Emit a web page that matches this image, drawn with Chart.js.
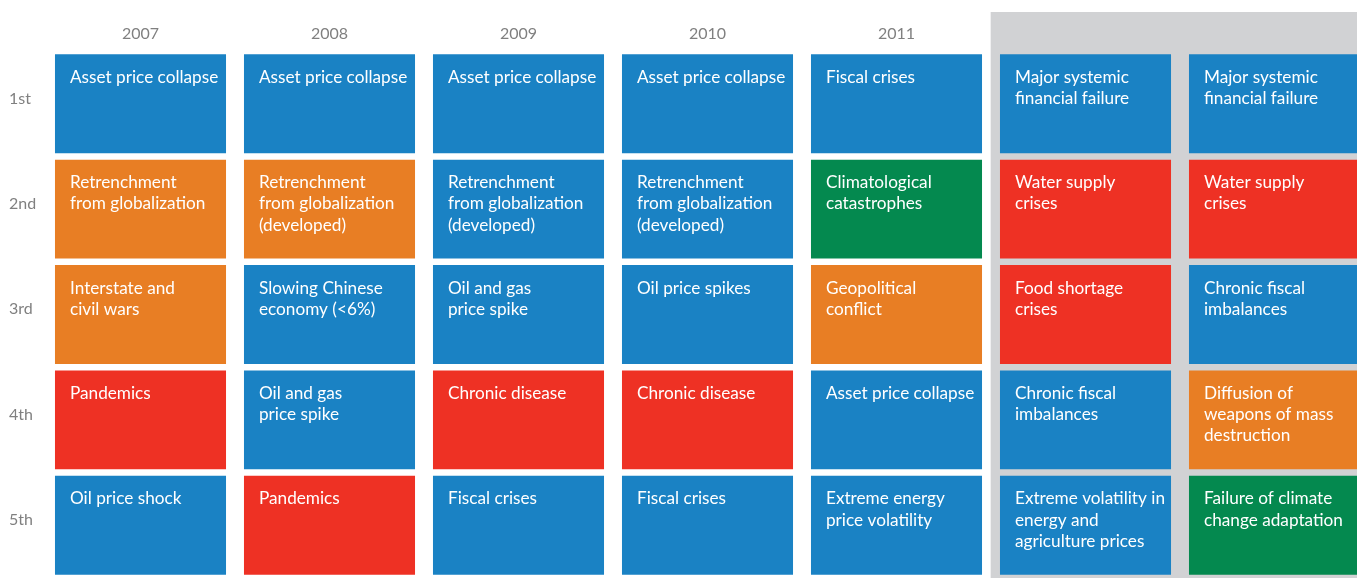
<!DOCTYPE html>
<html>
<head>
<meta charset="utf-8">
<script src="https://cdn.jsdelivr.net/npm/chart.js@4/dist/chart.umd.min.js"></script>
<style>
  html, body { margin: 0; padding: 0; background: #fff; overflow: hidden; }
  #wrap { position: relative; width: 1369px; height: 578px; }
</style>
</head>
<body>
<div id="wrap"><canvas id="c"></canvas></div>
<script>
// ---- data ----
const years = ['2007', '2008', '2009', '2010', '2011', '2012*', '2013*'];
const rankLabels = ['1st', '2nd', '3rd', '4th', '5th'];
const forecastYears = ['2012*', '2013*'];

// risk names per rank, one entry per year ("\n" = line break as printed)
const rank1Risks = ['Asset price collapse', 'Asset price collapse', 'Asset price collapse', 'Asset price collapse', 'Fiscal crises', 'Major systemic\nfinancial failure', 'Major systemic\nfinancial failure'];
const rank2Risks = ['Retrenchment\nfrom globalization', 'Retrenchment\nfrom globalization\n(developed)', 'Retrenchment\nfrom globalization\n(developed)', 'Retrenchment\nfrom globalization\n(developed)', 'Climatological\ncatastrophes', 'Water supply\ncrises', 'Water supply\ncrises'];
const rank3Risks = ['Interstate and\ncivil wars', 'Slowing Chinese\neconomy (<6%)', 'Oil and gas\nprice spike', 'Oil price spikes', 'Geopolitical\nconflict', 'Food shortage\ncrises', 'Chronic fiscal\nimbalances'];
const rank4Risks = ['Pandemics', 'Oil and gas\nprice spike', 'Chronic disease', 'Chronic disease', 'Asset price collapse', 'Chronic fiscal\nimbalances', 'Diffusion of\nweapons of mass\ndestruction'];
const rank5Risks = ['Oil price shock', 'Pandemics', 'Fiscal crises', 'Fiscal crises', 'Extreme energy\nprice volatility', 'Extreme volatility in\nenergy and\nagriculture prices', 'Failure of climate\nchange adaptation'];

// category per cell: E = economic, G = geopolitical, S = societal, N = environmental
const rank1Types = ['E', 'E', 'E', 'E', 'E', 'E', 'E'];
const rank2Types = ['G', 'G', 'E', 'E', 'N', 'S', 'S'];
const rank3Types = ['G', 'E', 'E', 'E', 'G', 'S', 'E'];
const rank4Types = ['S', 'E', 'S', 'S', 'E', 'E', 'G'];
const rank5Types = ['E', 'S', 'E', 'E', 'E', 'E', 'N'];

// ---- styling ----
const typeColors = { E: '#1a82c4', G: '#e87e24', S: '#ee3124', N: '#04894f' };
const bandColor = '#d1d2d4';
const labelGray = '#808080';
const cellFont = '"Lato", "Open Sans", sans-serif';

const risksByRank = [rank1Risks, rank2Risks, rank3Risks, rank4Risks, rank5Risks];
const typesByRank = [rank1Types, rank2Types, rank3Types, rank4Types, rank5Types];

const GAP = 0.031;
const rankDatasets = risksByRank.map((risks, r) => ({
  label: rankLabels[r],
  data: risks.map(() => [r + GAP, r + 1 - GAP]),
  risks: risks,
  backgroundColor: typesByRank[r].map(t => typeColors[t]),
  borderWidth: 0,
  borderSkipped: false,
  grouped: false,
  barPercentage: 0.905,
  categoryPercentage: 1.0,
  order: 1
}));

const bandDataset = {
  label: 'forecast',
  data: years.map(y => forecastYears.includes(y) ? [-0.367, 5.2] : null),
  backgroundColor: bandColor,
  borderWidth: 0,
  grouped: false,
  barPercentage: 1.0,
  categoryPercentage: 1.0,
  clip: false,
  order: 2
};

const cellText = {
  id: 'cellText',
  afterDatasetsDraw(chart) {
    const ctx = chart.ctx;
    ctx.save();
    ctx.fillStyle = '#ffffff';
    ctx.font = '17.2px ' + cellFont;
    ctx.textAlign = 'left';
    ctx.textBaseline = 'middle';
    chart.data.datasets.forEach((ds, di) => {
      if (!ds.risks) return;
      const meta = chart.getDatasetMeta(di);
      meta.data.forEach((el, i) => {
        const top = Math.min(el.y, el.base);
        const left = el.x - el.width / 2;
        const lines = ds.risks[i].split('\n');
        lines.forEach((ln, k) => {
          ctx.fillText(ln, left + 15, top + 23 + k * 21.2);
        });
      });
    });
    ctx.restore();
  }
};

new Chart(document.getElementById('c'), {
  type: 'bar',
  data: { labels: years, datasets: [bandDataset, ...rankDatasets] },
  options: {
    responsive: true,
    maintainAspectRatio: false,
    animation: false,
    layout: { padding: { left: 9, right: 0, top: 0, bottom: 0 } },
    plugins: { legend: { display: false }, tooltip: { enabled: false } },
    scales: {
      x: {
        position: 'top',
        z: 1,
        grid: { display: false, drawTicks: false },
        border: { display: false },
        ticks: { color: labelGray, font: { family: cellFont, size: 16 }, padding: 8 },
        afterFit(s) { s.height = 51; }
      },
      y: {
        min: 0, max: 5, reverse: true,
        grid: { display: false, drawTicks: false },
        border: { display: false },
        afterBuildTicks(s) { s.ticks = rankLabels.map((_, r) => ({ value: r + 0.45 })); },
        ticks: {
          color: labelGray,
          font: { family: cellFont, size: 16 },
          crossAlign: 'far',
          padding: 0,
          callback: (v, i) => rankLabels[i]
        },
        afterFit(s) { s.width = 37; s.paddingTop = 0; s.paddingBottom = 0; }
      }
    }
  },
  plugins: [cellText]
});
</script>
</body>
</html>
